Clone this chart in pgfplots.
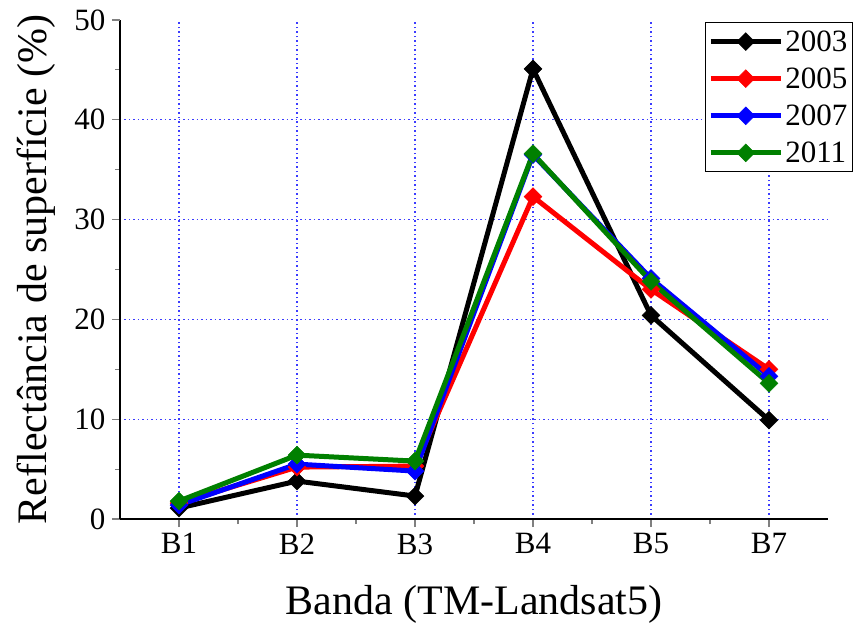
\documentclass[border=0pt]{standalone}
\usepackage{fontspec}
\setmainfont{Liberation Serif}
\usepackage{pgfplots}
\pgfplotsset{compat=1.18}

\pgfplotstableread{
x y2003 y2005 y2007 y2011
0 1.1 1.6 1.4 1.8
1 3.8 5.2 5.5 6.4
2 2.3 5.3 4.8 5.8
3 45.1 32.3 36.5 36.6
4 20.4 23.0 24.1 23.8
5 9.9 15.0 14.3 13.6
}\bands

\definecolor{gridblue}{RGB}{60,60,255}
\definecolor{darkgreen}{RGB}{0,128,0}

\begin{document}
\begin{tikzpicture}
\begin{axis}[
    name=main,
    scale only axis,
    width=708pt, height=499pt,
    xmin=-0.5, xmax=5.5, ymin=0, ymax=50,
    axis x line*=bottom, axis y line*=left,
    axis line style={line width=1.5pt,-},
    tick align=outside,
    major tick length=8pt, minor tick length=5pt,
    tick style={line width=1.2pt},
    xtick={0,...,5}, xticklabels={B1,B2,B3,B4,B5,B7},
    ytick={0,10,...,40},
    minor x tick num=1,
    minor ytick={5,15,...,45},
    extra y ticks={50},
    every extra y tick/.style={ymajorgrids=false},
    grid=major,
    major grid style={gridblue, line width=1.2pt, dash pattern=on 1.5pt off 3pt},
    /pgf/number format/assume math mode=true,
    tick label style={font=\fontsize{31}{36}\selectfont},
    xticklabel style={yshift=-3pt},
    yticklabel style={xshift=-3pt},
    xlabel={Banda (TM-Landsat5)},
    ylabel={Reflectância de superfície (\%)},
    xlabel style={font=\fontsize{42}{48}\selectfont, yshift=-24pt},
    ylabel style={font=\fontsize{42}{48}\selectfont, yshift=-4pt},
    legend style={at={(rel axis cs:1.035,0.996)}, anchor=north east,
        font=\fontsize{31}{34}\selectfont, draw=black, line width=1pt,
        row sep=11pt, inner sep=3pt, inner ysep=6pt},
    legend cell align=left,
    legend image code/.code={
        \draw[line width=5pt,#1] (0pt,0pt) -- (70pt,0pt);
        \draw[#1,mark repeat=2,mark phase=2] plot coordinates {(0pt,0pt)(35pt,0pt)(70pt,0pt)};
    },
    every axis plot/.append style={line width=5pt, mark=square*, mark size=6.3pt,
        mark options={solid,line width=0.5pt,rotate=45}},
]
\addplot[black] table[x=x,y=y2003] {\bands};
\addlegendentry{2003}
\addplot[red] table[x=x,y=y2005] {\bands};
\addlegendentry{2005}
\addplot[blue] table[x=x,y=y2007] {\bands};
\addlegendentry{2007}
\addplot[darkgreen] table[x=x,y=y2011] {\bands};
\addlegendentry{2011}
\end{axis}
\pgfresetboundingbox
\path[use as bounding box] (main.south west) ++(-120pt,-104pt) rectangle ++(866pt,623pt);
\end{tikzpicture}
\end{document}
